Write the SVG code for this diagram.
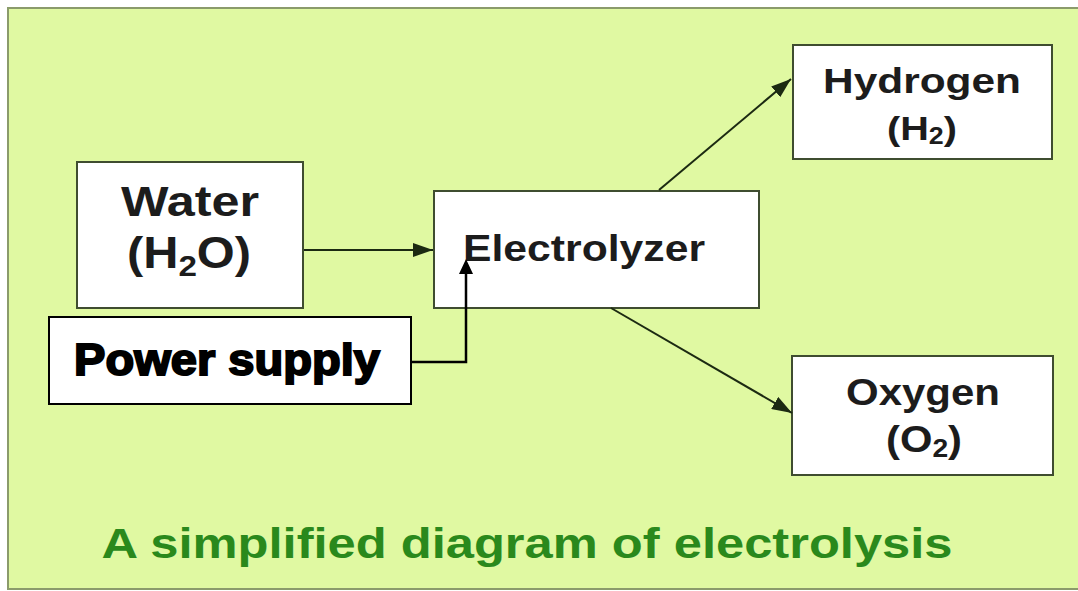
<svg xmlns="http://www.w3.org/2000/svg" width="1078" height="591" viewBox="0 0 1078 591">
<style>
.box{fill:#ffffff;stroke:#3f4d30;stroke-width:2}
.lbl{font-family:"Liberation Sans",Arial,sans-serif;font-weight:bold;fill:#1c1c1c;text-anchor:middle}
.conn{stroke:#1c2a12;stroke-width:2;fill:none}
</style>
<defs>
<marker id="ah" viewBox="0 0 20 14" refX="20" refY="7" markerWidth="20" markerHeight="14" markerUnits="userSpaceOnUse" orient="auto">
<path d="M0,0 L20,7 L0,14 z" fill="#1c2a12"/>
</marker>
</defs>
<rect x="0" y="0" width="1078" height="591" fill="#ffffff"/>
<rect id="panel" x="8" y="8" width="1080" height="581" fill="#e0f9a2" stroke="#8b9b6b" stroke-width="2"/>

<g id="water">
<rect class="box" x="77" y="162" width="226" height="146"/>
<text class="lbl" x="190" y="216" font-size="43" textLength="138" lengthAdjust="spacingAndGlyphs">Water</text>
<text class="lbl" x="189" y="268" font-size="44" textLength="124" lengthAdjust="spacingAndGlyphs">(H<tspan font-size="30" dy="8">2</tspan><tspan dy="-8">O)</tspan></text>
</g>

<g id="electrolyzer">
<rect class="box" x="434" y="191" width="325" height="117"/>
<text class="lbl" x="584" y="261" font-size="36" textLength="242" lengthAdjust="spacingAndGlyphs">Electrolyzer</text>
</g>

<g id="hydrogen">
<rect class="box" x="793" y="45" width="259" height="114"/>
<text class="lbl" x="922" y="93" font-size="35" textLength="198" lengthAdjust="spacingAndGlyphs">Hydrogen</text>
<text class="lbl" x="922" y="140" font-size="34" textLength="70" lengthAdjust="spacingAndGlyphs">(H<tspan font-size="23" dy="4">2</tspan><tspan dy="-4">)</tspan></text>
</g>

<g id="oxygen">
<rect class="box" x="792" y="356" width="261" height="119"/>
<text class="lbl" x="923" y="405" font-size="36" textLength="154" lengthAdjust="spacingAndGlyphs">Oxygen</text>
<text class="lbl" x="924" y="452" font-size="37" textLength="76" lengthAdjust="spacingAndGlyphs">(O<tspan font-size="25" dy="5">2</tspan><tspan dy="-5">)</tspan></text>
</g>

<g id="power">
<rect x="49" y="317" width="362" height="87" fill="#ffffff" stroke="#000" stroke-width="2"/>
<text x="227" y="375" font-family="'Liberation Sans',Arial,sans-serif" font-weight="bold" font-size="44" fill="#000" stroke="#000" stroke-width="2" text-anchor="middle" textLength="306" lengthAdjust="spacingAndGlyphs">Power supply</text>
</g>

<g id="connectors">
<line class="conn" x1="304" y1="250" x2="433" y2="250" marker-end="url(#ah)"/>
<line class="conn" x1="659" y1="190" x2="791" y2="79" marker-end="url(#ah)"/>
<line class="conn" x1="611" y1="308" x2="792" y2="413" marker-end="url(#ah)"/>
<path d="M411,362 H466 V270" stroke="#000" stroke-width="2.5" fill="none"/>
<path d="M466,259 L473,274 L459,274 z" fill="#000"/>
</g>

<text id="caption" x="527" y="558" font-family="'Liberation Sans',Arial,sans-serif" font-weight="bold" font-size="43" fill="#2a891c" text-anchor="middle" textLength="851" lengthAdjust="spacingAndGlyphs">A simplified diagram of electrolysis</text>
</svg>
